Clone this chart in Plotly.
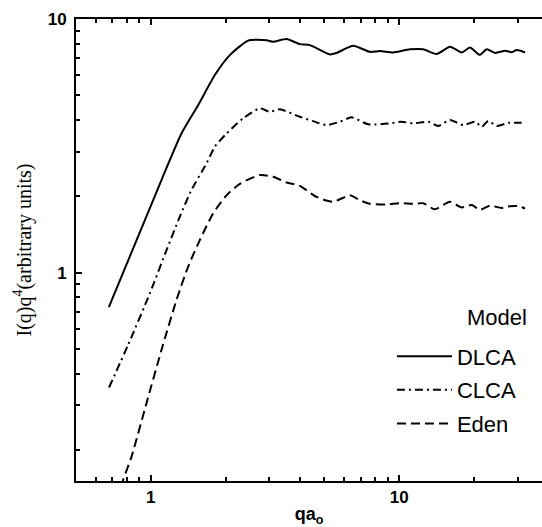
import plotly.graph_objects as go

# ---- data ----
q_dlca = [0.678, 1.104, 1.329, 1.551, 1.811, 2.08, 2.466, 2.924, 3.11, 3.52, 3.98, 4.37, 5.26, 5.60,
          6.53, 7.62, 8.36, 9.46, 11.05, 12.5, 14.15, 16.0, 17.85, 19.27, 21.1, 22.5, 24.3, 26.7,
          28.4, 29.7, 32.1]
i_dlca = [0.732, 2.32, 3.54, 4.58, 6.02, 7.21, 8.23, 8.26, 8.14, 8.34, 7.97, 7.90, 7.26, 7.36,
          7.85, 7.43, 7.48, 7.39, 7.60, 7.60, 7.28, 7.78, 7.39, 7.73, 7.23, 7.60, 7.36, 7.50,
          7.41, 7.55, 7.39]

q_clca = [0.679, 0.810, 0.991, 1.157, 1.309, 1.458, 1.676, 1.811, 2.018, 2.354, 2.748, 3.015, 3.31,
          3.98, 4.50, 5.10, 5.77, 6.43, 7.50, 9.17, 10.2, 11.4, 13.1, 14.35, 16.0, 18.1, 20.2,
          21.5, 22.8, 24.7, 27.5, 31.1]
i_clca = [0.353, 0.519, 0.829, 1.229, 1.663, 2.12, 2.70, 3.14, 3.54, 4.06, 4.45, 4.31, 4.41,
          4.12, 3.96, 3.82, 3.94, 4.10, 3.85, 3.88, 3.94, 3.88, 3.94, 3.79, 4.00, 3.82, 3.94,
          3.76, 3.97, 3.79, 3.90, 3.90]

q_eden = [0.679, 0.773, 0.836, 0.961, 1.104, 1.269, 1.413, 1.575, 1.782, 2.018, 2.283, 2.748, 3.11,
          3.52, 3.98, 4.65, 5.42, 6.33, 6.95, 7.62, 8.90, 10.07, 11.39, 12.5, 13.9, 16.0, 17.85,
          19.6, 21.1, 23.2, 25.8, 27.9, 30.6, 32.1]
i_eden = [0.0995, 0.152, 0.188, 0.306, 0.496, 0.781, 1.056, 1.345, 1.714, 2.02, 2.24, 2.43, 2.39,
          2.27, 2.20, 1.99, 1.905, 2.02, 1.93, 1.87, 1.86, 1.88, 1.87, 1.88, 1.78, 1.905, 1.81,
          1.85, 1.77, 1.84, 1.80, 1.83, 1.83, 1.79]

series_names = ["DLCA", "CLCA", "Eden"]
legend_title = "Model"
x_major = [1, 10]
x_major_text = ["1", "10"]
x_minor = [0.6, 0.7, 0.8, 0.9, 2, 3, 4, 5, 6, 7, 8, 9, 20, 30]
y_major = [1, 10]
y_major_text = ["1", "10"]
y_minor = [0.2, 0.3, 0.4, 0.5, 0.6, 0.7, 0.8, 0.9, 2, 3, 4, 5, 6, 7, 8, 9]

dashes = ["solid", "8px,4px,2px,4px", "9px,5px"]
qs = [q_dlca, q_clca, q_eden]
ins = [i_dlca, i_clca, i_eden]

x_range = [-0.301, 1.5747]
y_range = [-0.821, 1.0005]

fig = go.Figure()
for name, qv, iv, d in zip(series_names, qs, ins, dashes):
    fig.add_trace(go.Scatter(x=qv, y=iv, mode="lines", name=name, legendgroup=name,
                             line=dict(color="black", width=2, dash=d, shape="spline", smoothing=0.6)))

tickfont = dict(family="Liberation Sans", size=17, color="black", weight="bold")

fig.add_annotation(text=legend_title, xref="paper", yref="paper", x=0.972, y=0.353,
                   xanchor="right", yanchor="middle", showarrow=False,
                   font=dict(family="Liberation Sans", size=22, color="black"))

fig.update_layout(
    width=542, height=527,
    margin=dict(l=76, r=0, t=19, b=46, autoexpand=False),
    paper_bgcolor="white", plot_bgcolor="white",
    showlegend=True,
    legend=dict(x=0.678, y=0.315, xanchor="left", yanchor="top",
                bgcolor="rgba(0,0,0,0)", tracegroupgap=2, itemwidth=55,
                font=dict(family="Liberation Sans", size=22, color="black")),
    xaxis=dict(type="log", range=x_range, mirror="allticks", automargin=False,
               showgrid=False, zeroline=False, showline=True, linecolor="black", linewidth=2,
               ticks="inside", ticklen=6, tickwidth=1.5, tickcolor="#000000",
               tickmode="array", tickvals=x_major, ticktext=x_major_text, tickfont=tickfont,
               minor=dict(ticks="inside", ticklen=4, tickwidth=1.5, tickcolor="#000000",
                          tickmode="array", tickvals=x_minor, showgrid=False),
               title=dict(text="qa<sub>o</sub>", standoff=8,
                          font=dict(family="Liberation Sans", size=18, color="black", weight="bold"))),
    yaxis=dict(type="log", range=y_range, automargin=False,
               showgrid=False, zeroline=False, showline=True, linecolor="black", linewidth=2,
               ticks="inside", ticklen=6, tickwidth=1.5, tickcolor="#000000",
               tickmode="array", tickvals=y_major, ticktext=y_major_text, tickfont=tickfont,
               minor=dict(ticks="inside", ticklen=4, tickwidth=1.5, tickcolor="#000000",
                          tickmode="array", tickvals=y_minor, showgrid=False),
               ticklabelstandoff=4,
               title=dict(text="I(q)q<sup>4</sup>(arbitrary units)", standoff=11,
                          font=dict(family="Liberation Serif", size=20, color="black"))),
)

fig.write_html("out.html")
